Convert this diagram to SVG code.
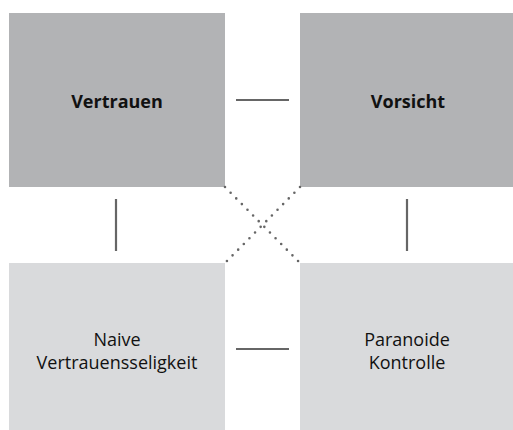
<svg xmlns="http://www.w3.org/2000/svg" width="513" height="430" viewBox="0 0 513 430">
<style>
.top{fill:#b2b3b5}
.bot{fill:#d9dadc}
.t{font-family:"Open Sans","Liberation Sans",sans-serif;font-size:18px;fill:#111;text-anchor:middle}
.b{font-weight:700}
.ln{stroke:#666;stroke-width:2.2;fill:none}
.dot{stroke:#666;stroke-width:2.6;stroke-linecap:round;stroke-dasharray:0 8;fill:none}
</style>
<rect width="513" height="430" fill="#fff"/>
<g id="vertrauen"><rect class="top" x="9" y="13" width="216" height="174"/><text class="t b" x="117" y="108">Vertrauen</text></g>
<g id="vorsicht"><rect class="top" x="300" y="13" width="213" height="174"/><text class="t b" x="408" y="108">Vorsicht</text></g>
<g id="naive"><rect class="bot" x="9" y="263" width="216" height="167"/><text class="t" x="117" y="346">Naive</text><text class="t" x="117" y="369">Vertrauensseligkeit</text></g>
<g id="paranoide"><rect class="bot" x="300" y="263" width="213" height="167"/><text class="t" x="407" y="346">Paranoide</text><text class="t" x="407" y="369">Kontrolle</text></g>
<g id="connectors">
<line class="ln" x1="236" y1="100" x2="289" y2="100"/>
<line class="ln" x1="236" y1="349" x2="289" y2="349"/>
<line class="ln" x1="116" y1="199" x2="116" y2="251"/>
<line class="ln" x1="407" y1="199" x2="407" y2="251"/>
<line class="dot" x1="225" y1="187" x2="300" y2="263"/>
<line class="dot" x1="300" y1="187" x2="225" y2="263"/>
</g>
</svg>
